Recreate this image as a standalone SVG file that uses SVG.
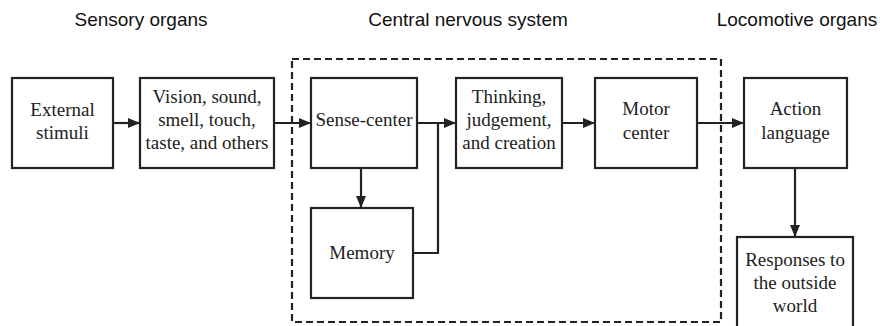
<svg xmlns="http://www.w3.org/2000/svg" width="880" height="326" viewBox="0 0 880 326">
<defs>
<marker id="ah" viewBox="0 0 12 10" refX="12" refY="5" markerWidth="12" markerHeight="10" markerUnits="userSpaceOnUse" orient="auto">
<path d="M0,0 L12,5 L0,10 Z" fill="#222"/>
</marker>
<style>
.box{fill:#fff;stroke:#222;stroke-width:2.2}
.t{font-family:'Liberation Serif','DejaVu Serif',serif;font-size:19px;fill:#222;text-anchor:middle}
.h{font-family:'Liberation Sans',Arial,sans-serif;font-size:19px;fill:#111;text-anchor:middle}
.c{fill:none;stroke:#222;stroke-width:2.2}
</style>
</defs>
<rect width="880" height="326" fill="#fff"/>
<text class="h" x="141" y="26">Sensory organs</text>
<text class="h" x="468" y="26">Central nervous system</text>
<text class="h" x="797" y="26">Locomotive organs</text>
<rect id="cns-boundary" x="292" y="59" width="429" height="263" fill="none" stroke="#222" stroke-width="2.2" stroke-dasharray="7,4"/>
<g id="external"><rect class="box" x="12" y="78" width="101" height="90"/><text class="t" x="62.5" y="116">External</text><text class="t" x="62.5" y="139">stimuli</text></g>
<g id="vision"><rect class="box" x="140" y="78" width="134" height="90"/><text class="t" x="207" y="103">Vision, sound,</text><text class="t" x="207" y="126">smell, touch,</text><text class="t" x="207" y="149">taste, and others</text></g>
<g id="sense"><rect class="box" x="311" y="78" width="106" height="90"/><text class="t" x="364" y="126">Sense-center</text></g>
<g id="thinking"><rect class="box" x="456" y="78" width="106" height="90"/><text class="t" x="509" y="103">Thinking,</text><text class="t" x="509" y="126">judgement,</text><text class="t" x="509" y="149">and creation</text></g>
<g id="motor"><rect class="box" x="595" y="78" width="102" height="90"/><text class="t" x="646" y="115">Motor</text><text class="t" x="646" y="139">center</text></g>
<g id="action"><rect class="box" x="744" y="78" width="103" height="90"/><text class="t" x="795.5" y="115">Action</text><text class="t" x="795.5" y="139">language</text></g>
<g id="memory"><rect class="box" x="311" y="208" width="102" height="90"/><text class="t" x="362" y="259">Memory</text></g>
<g id="responses"><rect class="box" x="737" y="237" width="116" height="95"/><text class="t" x="795" y="266">Responses to</text><text class="t" x="795" y="289">the outside</text><text class="t" x="795" y="312">world</text></g>
<g id="connectors">
<line class="c" x1="113" y1="123" x2="140" y2="123" marker-end="url(#ah)"/>
<line class="c" x1="274" y1="123" x2="311" y2="123" marker-end="url(#ah)"/>
<line class="c" x1="417" y1="123" x2="456" y2="123" marker-end="url(#ah)"/>
<line class="c" x1="562" y1="123" x2="595" y2="123" marker-end="url(#ah)"/>
<line class="c" x1="697" y1="123" x2="744" y2="123" marker-end="url(#ah)"/>
<line class="c" x1="361" y1="168" x2="361" y2="208" marker-end="url(#ah)"/>
<line class="c" x1="795" y1="168" x2="795" y2="237" marker-end="url(#ah)"/>
<polyline class="c" points="413,253 438,253 438,123"/>
</g>
</svg>
